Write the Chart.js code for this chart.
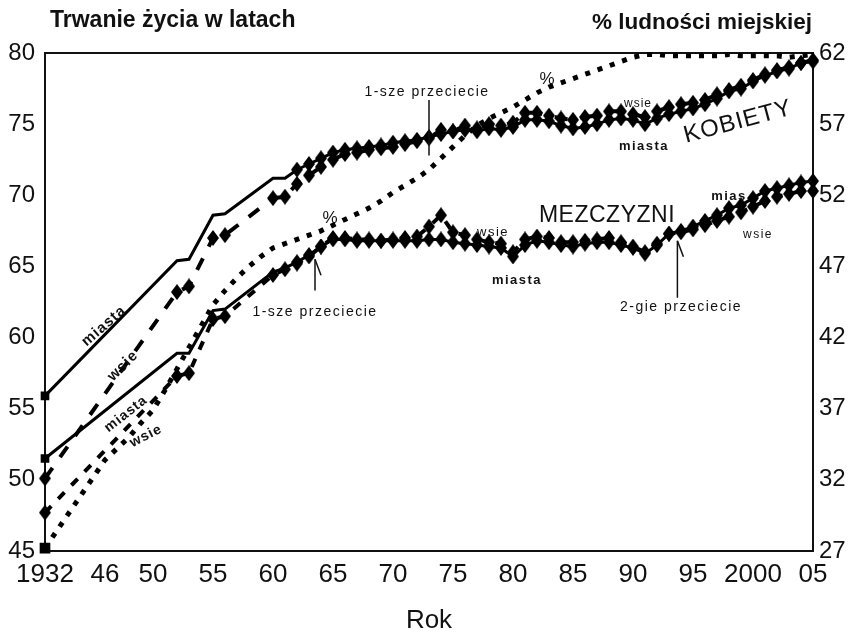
<!DOCTYPE html>
<html><head><meta charset="utf-8">
<script src="https://cdn.jsdelivr.net/npm/chart.js@4"></script>
<style>html,body{margin:0;padding:0;background:#fff}#wrap{width:854px;height:636px;position:relative}</style>
</head><body><div id="wrap"><canvas id="c" width="854" height="636"></canvas></div>
<script>
// x categories: 1932, a gap of four empty slots (compressed pre-war axis), then yearly 1946-2005
const categories = ['1932','','','','',
 '1946','1947','1948','1949','1950','1951','1952','1953','1954','1955',
 '1956','1957','1958','1959','1960','1961','1962','1963','1964','1965',
 '1966','1967','1968','1969','1970','1971','1972','1973','1974','1975',
 '1976','1977','1978','1979','1980','1981','1982','1983','1984','1985',
 '1986','1987','1988','1989','1990','1991','1992','1993','1994','1995',
 '1996','1997','1998','1999','2000','2001','2002','2003','2004','2005'];
const tickLabels = {'1932':'1932','1946':'46','1950':'50','1955':'55','1960':'60','1965':'65','1970':'70','1975':'75','1980':'80','1985':'85','1990':'90','1995':'95','2000':'2000','2005':'05'};
const leftTicks = [45,50,55,60,65,70,75,80];
const rightTicks = [27,32,37,42,47,52,57,62];

// Kobiety – miasta (women, towns)
const womenTowns = [55.9, null,null,null,null,
 null,null,null,null,null, null,65.4,65.5,null,68.6,
 68.7,null,null,null,71.2, 71.2,71.8,72.2,72.6,73.0,
 73.2,73.3,73.4,73.5,73.7, 73.8,73.9,74.1,74.3,74.5,
 74.6,74.5,74.7,74.6,74.8, 75.3,75.3,75.2,74.9,74.7,
 74.8,75.0,75.3,75.4,75.3, 75.0,75.4,75.7,75.9,76.1,
 76.4,76.8,77.3,77.5,78.0, 78.4,78.7,78.9,79.3,79.4];
// Kobiety – wsie (women, villages)
const womenVillages = [50.1, null,null,null,null,
 null,null,null,null,null, null,63.2,63.6,null,67.0,
 67.2,null,null,null,69.8, 69.9,70.8,71.4,72.0,72.5,
 72.9,73.0,73.2,73.3,73.4, 73.6,73.8,74.0,74.6,74.5,
 74.9,74.7,75.0,74.9,75.1, 75.8,75.8,75.6,75.4,75.3,
 75.5,75.6,75.9,75.9,75.7, 75.5,75.9,76.2,76.4,76.5,
 76.7,77.1,77.4,77.7,78.1, 78.5,78.8,79.0,79.3,79.5];
// Mezczyzni – miasta (men, towns)
const menTowns = [51.5, null,null,null,null,
 null,null,null,null,null, null,58.9,58.9,null,61.9,
 62.0,null,null,null,64.6, 64.9,65.3,65.8,66.4,66.9,
 66.9,66.8,66.8,66.8,66.8, 66.8,66.8,66.9,66.9,66.7,
 66.6,66.5,66.4,66.3,65.7, 66.5,66.8,66.7,66.5,66.4,
 66.6,66.7,66.7,66.5,66.3, 65.9,66.5,67.3,67.5,67.8,
 68.2,68.6,69.1,69.3,69.8, 70.3,70.5,70.7,70.9,71.0];
// Mezczyzni – wsie (men, villages)
const menVillages = [47.7, null,null,null,null,
 null,null,null,null,null, null,57.3,57.5,null,61.3,
 61.5,null,null,null,64.4, 64.8,65.2,65.7,66.4,67.0,
 67.0,66.9,66.9,66.8,66.9, 67.0,67.1,67.8,68.6,67.4,
 67.2,66.9,66.7,66.6,66.0, 66.9,67.1,67.0,66.7,66.7,
 66.8,66.9,67.0,66.7,66.4, 66.0,66.6,67.3,67.4,67.6,
 67.9,68.2,68.5,68.8,69.2, 69.6,69.9,70.1,70.3,70.3];
// % ludnosci miejskiej (urban population share, right axis)
const urbanShare = [27.2, null,null,null,null,
 33.4,34.2,35.0,36.0,36.9, 38.3,39.8,41.3,42.8,44.3,
 45.3,46.2,47.0,47.7,48.3, 48.6,48.9,49.2,49.5,49.9,
 50.3,50.7,51.1,51.6,52.2, 52.7,53.2,53.8,54.6,55.4,
 56.2,56.9,57.4,57.8,58.2, 58.7,59.2,59.6,59.9,60.2,
 60.5,60.8,61.1,61.4,61.7, 61.9,61.9,61.8,61.8,61.8,
 61.8,61.8,61.9,61.8,61.8, 61.8,61.8,61.7,61.8,61.9];

const FONT = "'Liberation Sans', Arial, sans-serif";
const INK = '#111';

// elongated black diamond marker
const diamond = document.createElement('canvas');
diamond.width = 12; diamond.height = 16;
(function(){const d=diamond.getContext('2d');d.fillStyle='#000';d.beginPath();d.moveTo(6,0);d.lineTo(12,8);d.lineTo(6,16);d.lineTo(0,8);d.closePath();d.fill();})();

const townStyle = ctx => ctx.dataIndex === 0 ? 'rect' : diamond;
const townRadius = ctx => ctx.dataIndex === 0 ? 4 : (ctx.dataIndex < 21 ? 0 : 5);
const villageStyle = diamond;
const villageRadius = 5;

const decor = {
  id: 'decor',
  beforeDatasetsDraw(chart) {
    const {ctx, chartArea: a} = chart;
    ctx.save();
    ctx.strokeStyle = INK; ctx.lineWidth = 2;
    ctx.strokeRect(a.left, a.top, a.right - a.left, a.bottom - a.top);
    ctx.restore();
  },
  afterDraw(chart) {
    const {ctx} = chart;
    const xs = chart.scales.x, ys = chart.scales.y;
    ctx.save();
    ctx.fillStyle = INK; ctx.strokeStyle = INK;
    // axis titles
    ctx.textBaseline = 'middle';
    ctx.font = 'bold 23px ' + FONT;
    ctx.textAlign = 'left'; ctx.fillText('Trwanie życia w latach', 50, 21);
    ctx.font = 'bold 22.5px ' + FONT;
    ctx.textAlign = 'right'; ctx.fillText('% ludności miejskiej', 812, 23);
    // crossing markers
    const marks = [[32, 76.7, 72.8, false], [22.5, 65.5, 63.3, true], [52.7, 66.8, 62.8, true]];
    ctx.lineWidth = 1.5;
    marks.forEach(([i, v1, v2, tick]) => {
      const x = xs.getPixelForValue(i), y1 = ys.getPixelForValue(v1), y2 = ys.getPixelForValue(v2);
      ctx.beginPath(); ctx.moveTo(x, y1); ctx.lineTo(x, y2); ctx.stroke();
      if (tick) { ctx.beginPath(); ctx.moveTo(x, y1); ctx.lineTo(x + 6, y1 + 16); ctx.stroke(); }
    });
    const texts = [
      ['miasta', 104, 326, -41, 'bold 15px', 1],
      ['wsie', 123, 366, -45, 'bold 15px', 1],
      ['miasta', 126, 414, -38, 'bold 14px', 1],
      ['wsie', 146, 436, -27, 'bold 14px', 1],
      ['%', 330, 218, 0, '17px', 0],
      ['%', 547, 79, 0, '17px', 0],
      ['1-sze przeciecie', 427, 92, 0, '14px', 1.5],
      ['1-sze przeciecie', 315, 312, 0, '14px', 1.5],
      ['2-gie przeciecie', 681, 307, 0, '14px', 1.5],
      ['wsie', 638, 104, 0, '12px', 1],
      ['miasta', 644, 146, 0, 'bold 13px', 1.5],
      ['KOBIETY', 738, 122, -15, '24px', 1],
      ['MEZCZYZNI', 607, 216, 0, '23px', 0.5],
      ['wsie', 493, 232, 0, '13px', 1.5],
      ['miasta', 517, 280, 0, 'bold 13px', 1.5],
      ['mias', 729, 196, 0, 'bold 13px', 1.5],
      ['wsie', 758, 235, 0, '12px', 1.5]
    ];
    ctx.textAlign = 'center'; ctx.textBaseline = 'middle';
    texts.forEach(([t, x, y, ang, f, sp]) => {
      ctx.save();
      ctx.font = f + ' ' + FONT;
      ctx.letterSpacing = sp + 'px';
      ctx.translate(x, y); ctx.rotate(ang * Math.PI / 180);
      ctx.fillText(t, 0, 0);
      ctx.restore();
    });
    ctx.restore();
  }
};

new Chart(document.getElementById('c'), {
  type: 'line',
  data: {
    labels: categories,
    datasets: [
      { label: 'Kobiety miasta', data: womenTowns, yAxisID: 'y', borderColor: '#000', backgroundColor: '#000', borderWidth: 3, pointStyle: townStyle, pointRadius: townRadius, spanGaps: true, clip: false, tension: 0 },
      { label: 'Kobiety wsie', data: womenVillages, yAxisID: 'y', borderColor: '#000', backgroundColor: '#000', borderWidth: 4, borderDash: [13, 13], pointStyle: villageStyle, pointRadius: villageRadius, spanGaps: true, clip: false, tension: 0 },
      { label: 'Mezczyzni miasta', data: menTowns, yAxisID: 'y', borderColor: '#000', backgroundColor: '#000', borderWidth: 3, pointStyle: townStyle, pointRadius: townRadius, spanGaps: true, clip: false, tension: 0 },
      { label: 'Mezczyzni wsie', data: menVillages, yAxisID: 'y', borderColor: '#000', backgroundColor: '#000', borderWidth: 4, borderDash: [9, 10], pointStyle: villageStyle, pointRadius: villageRadius, spanGaps: true, clip: false, tension: 0 },
      { label: '% ludnosci miejskiej', data: urbanShare, yAxisID: 'y1', borderColor: '#000', backgroundColor: '#000', borderWidth: 5, borderDash: [5, 8], borderCapStyle: 'butt', pointStyle: 'rect', pointRadius: ctx => ctx.dataIndex === 0 ? 4 : 0, spanGaps: true, clip: false, tension: 0 }
    ]
  },
  options: {
    responsive: false, animation: false, events: [],
    layout: { padding: { top: 53, left: 0, right: 0, bottom: 0 } },
    plugins: { legend: { display: false }, tooltip: { enabled: false } },
    scales: {
      x: {
        type: 'category', offset: false,
        grid: { display: false, drawTicks: false }, border: { display: false },
        ticks: { autoSkip: false, maxRotation: 0, minRotation: 0, padding: 8, color: INK, font: { family: FONT, size: 26 },
          callback: (v, i) => tickLabels[categories[i]] ?? null },
        title: { display: true, text: 'Rok', color: INK, font: { family: FONT, size: 26 }, padding: { top: 0, bottom: 0 } },
        afterFit: s => { s.height = 85; }
      },
      y: {
        position: 'left', min: 45, max: 80,
        afterBuildTicks: s => { s.ticks = leftTicks.map(v => ({ value: v })); },
        grid: { display: false, drawTicks: false }, border: { display: false },
        ticks: { padding: 10, color: INK, font: { family: FONT, size: 24 } },
        afterFit: s => { s.width = 45; }
      },
      y1: {
        position: 'right', min: 27, max: 62,
        afterBuildTicks: s => { s.ticks = rightTicks.map(v => ({ value: v })); },
        grid: { display: false, drawTicks: false }, border: { display: false },
        ticks: { padding: 6, color: INK, font: { family: FONT, size: 24 } },
        afterFit: s => { s.width = 41; }
      }
    }
  },
  plugins: [decor]
});
</script>
</body></html>
